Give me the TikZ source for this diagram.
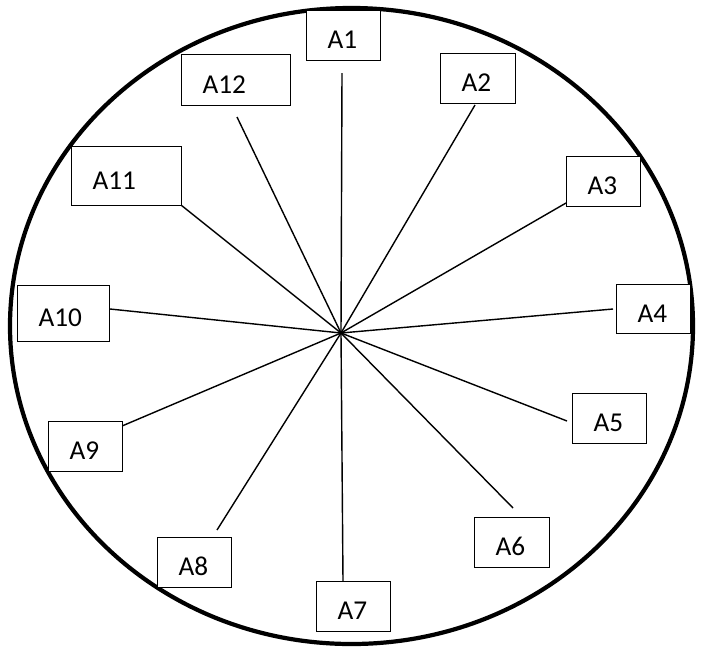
\documentclass[tikz,border=0pt]{standalone}
\usepackage{fontspec}
\setmainfont{Carlito}
\usetikzlibrary{positioning}

\begin{document}
\begin{tikzpicture}[
        x=0.02cm, y=-0.02cm,
        part/.style={rectangle, draw=black, line width=0.6pt, fill=white, anchor=north west, align=left, inner xsep=0.42cm, inner ysep=0pt, minimum height=1cm, text height=0.52cm, text depth=0pt, font=\fontsize{15.5}{18}\selectfont},
        spoke/.style={draw=black, line width=0.8pt}
    ]
        \useasboundingbox (0,0) rectangle (703,650);

        % Outer ring
        \draw[line width=2.4pt] (351.5,326) ellipse [x radius=341.5, y radius=318];

        % Centre and spoke ends
        \coordinate (hub) at (341,333);
        \coordinate (e1) at (342,73);
        \coordinate (e2) at (475,105);
        \coordinate (e3) at (566,203);
        \coordinate (e4) at (613,309);
        \coordinate (e5) at (567,421);
        \coordinate (e6) at (513,508);
        \coordinate (e7) at (343,581);
        \coordinate (e8) at (217,530);
        \coordinate (e9) at (122,426);
        \coordinate (e10) at (110,309);
        \coordinate (e11) at (181,205);
        \coordinate (e12) at (237,117);

        % Spokes
        \foreach \i in {1,...,12}
            \draw[spoke] (hub) -- (e\i);

        % Labels
        \node[part, text width=0.64cm] (a1) at (306,10) {A1};
        \node[part, text width=0.66cm] (a2) at (440,53) {A2};
        \node[part, text width=0.64cm] (a3) at (566,156) {A3};
        \node[part, text width=0.64cm, minimum height=0.98cm] (a4) at (616,284) {A4};
        \node[part, text width=0.64cm] (a5) at (572,393) {A5};
        \node[part, text width=0.66cm] (a6) at (474,517) {A6};
        \node[part, text width=0.64cm] (a7) at (316,581) {A7};
        \node[part, text width=0.64cm] (a8) at (157,537) {A8};
        \node[part, text width=0.64cm] (a9) at (48,421) {A9};
        \node[part, text width=1.0cm, minimum height=1.12cm] (a10) at (17,285) {A10};
        \node[part, text width=1.36cm, minimum height=1.18cm] (a11) at (71,146) {A11};
        \node[part, text width=1.34cm, minimum height=1.02cm] (a12) at (181,54) {A12};
    \end{tikzpicture}
\end{document}
